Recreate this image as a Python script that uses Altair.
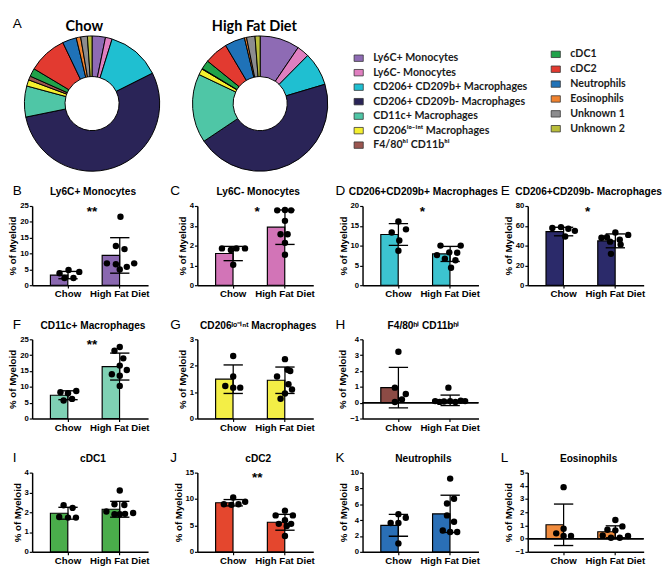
import altair as alt
import pandas as pd

groups = ["Chow", "High Fat Diet"]

# ---- donut data (A) ----
cells = ["Ly6C+ Monocytes", "Ly6C- Monocytes", "CD206+ CD209b+ Macrophages",
         "CD206+ CD209b- Macrophages", "CD11c+ Macrophages", "CD206ˡᵒ⁻ⁱⁿᵗ Macrophages",
         "F4/80ʰⁱ CD11bʰⁱ", "cDC1", "cDC2", "Neutrophils", "Eosinophils",
         "Unknown 1", "Unknown 2"]
cell_colors = ["#8e6bb4", "#e07fc0", "#1fbfd1", "#2a2457", "#4fc6a6", "#f4ef2f",
               "#9b5650", "#21a24a", "#e23a30", "#1f72b8", "#f0822e", "#8c8c8e", "#b9bd3a"]
share_chow = [3.2, 1.6, 12.8, 54.2, 7.4, 1.5, 0.95, 1.95, 9.3, 3.35, 1.05, 1.6, 1.1]
share_hfd = [9.4, 2.9, 7.9, 44.8, 16.3, 1.45, 0.15, 2.12, 5.6, 4.75, 0.5, 2.0, 1.2]
legend_col1 = cells[:7]
legend_col2 = cells[7:]

# ---- bar panels (B-L) ----
panel_titles = ["Ly6C+ Monocytes", "Ly6C- Monocytes", "CD206+CD209b+ Macrophages",
                "CD206+CD209b- Macrophages", "CD11c+ Macrophages", "CD206ˡᵒ⁻ⁱⁿᵗ Macrophages",
                "F4/80ʰⁱ CD11bʰⁱ", "cDC1", "cDC2", "Neutrophils", "Eosinophils"]
panel_letters = ["B", "C", "D", "E", "F", "G", "H", "I", "J", "K", "L"]
panel_colors = ["#8a68b0", "#d274b7", "#3cc3d0", "#2b2a6a", "#7fd1b4", "#f3ee46",
                "#8c4b45", "#4aad4b", "#e4472e", "#2a6fb6", "#f08b3d"]
y_domains = [[0, 25], [0, 4], [0, 20], [0, 80], [0, 25], [0, 3], [-1, 4],
             [0, 4], [0, 15], [0, 10], [-1, 5]]
y_steps = [5, 1, 5, 20, 5, 1, 1, 1, 5, 2, 1]
stars = ["**", "*", "*", "*", "**", "", "", "", "**", "", ""]

mean_chow = [3.2, 1.6, 12.8, 54.2, 7.35, 1.49, 0.95, 1.95, 9.3, 3.35, 1.05]
sd_chow = [1.15, 0.36, 2.75, 4.3, 1.4, 0.54, 1.28, 0.3, 0.6, 1.38, 1.57]
mean_hfd = [9.4, 2.93, 7.9, 44.8, 16.4, 1.45, 0.15, 2.15, 5.6, 4.8, 0.52]
sd_hfd = [5.6, 0.87, 1.9, 7.0, 4.25, 0.5, 0.33, 0.4, 1.5, 2.35, 0.45]

pts_chow = [
    [3.8, 4.8, 4.2, 2.3, 2.3],
    [1.86, 1.78, 1.86, 1.86, 1.03],
    [16.1, 13.3, 14.1, 11.3, 8.7],
    [57.8, 58.7, 57.1, 54.9, 49.2],
    [8.3, 8.0, 8.7, 5.7, 6.2],
    [2.37, 1.59, 1.23, 1.17, 1.17],
    [3.22, 0.95, 0.55, 0.2, 0.04],
    [2.35, 2.22, 1.76, 1.73, 1.73],
    [10.3, 9.0, 8.9, 9.0, 9.5],
    [4.76, 4.3, 3.65, 3.65, 1.07],
    [3.9, 0.75, 0.4, 0.2, 0.2],
]
jit_chow = [
    [-0.48, 0.03, 0.64, -0.2, 0.31],
    [-0.64, -0.13, 0.18, 0.67, 0.0],
    [0.0, -0.38, 0.43, 0.05, 0.0],
    [-0.64, -0.15, 0.27, 0.64, 0.09],
    [-0.43, 0.0, 0.47, -0.25, 0.23],
    [0.0, 0.0, -0.45, 0.4, 0.0],
    [0.0, -0.2, 0.42, 0.2, -0.2],
    [-0.25, 0.26, -0.5, 0.0, 0.45],
    [0.0, -0.53, -0.1, 0.3, 0.68],
    [0.0, 0.42, -0.44, 0.0, 0.0],
    [0.0, 0.0, -0.42, 0.0, 0.42],
]
pts_hfd = [
    [21.6, 12.4, 11.4, 6.9, 6.6, 5.0, 5.8, 6.9],
    [3.78, 3.8, 3.78, 3.25, 2.57, 2.57, 2.14, 1.54],
    [10.0, 10.0, 7.6, 8.3, 8.2, 6.7, 6.3, 4.4],
    [48.5, 53.3, 50.8, 48.0, 46.0, 44.0, 41.0, 31.7],
    [22.6, 21.4, 19.0, 16.7, 15.3, 14.0, 13.5, 10.3],
    [2.25, 1.85, 1.8, 1.59, 1.3, 1.1, 0.95, 0.75],
    [0.95, 0.1, 0.05, 0.08, 0.1, 0.05, 0.12, 0.1],
    [3.1, 2.4, 2.37, 2.04, 1.96, 1.9, 1.9, 1.92],
    [7.8, 6.9, 6.9, 6.0, 5.3, 5.3, 4.9, 3.0],
    [9.25, 6.7, 6.1, 4.6, 3.8, 2.7, 2.5, 2.5],
    [1.41, 0.93, 0.68, 0.63, 0.24, 0.07, 0.07, 0.2],
]
jit_hfd = [
    [0.04, -0.22, 0.27, -0.73, -0.22, 0.0, 0.4, 0.82],
    [-0.44, 0.0, 0.35, 0.0, -0.25, 0.15, 0.0, 0.0],
    [-0.55, 0.6, -0.75, -0.05, 0.4, -0.3, 0.3, 0.05],
    [-0.48, 0.0, 0.73, -0.79, 0.25, -0.3, 0.3, -0.25],
    [0.0, -0.3, 0.2, 0.0, 0.4, -0.45, 0.0, 0.0],
    [0.0, 0.15, 0.3, -0.45, 0.2, 0.4, 0.0, -0.25],
    [-0.1, -0.85, -0.6, -0.35, 0.0, 0.3, 0.6, 0.85],
    [0.0, -0.3, 0.26, -0.76, 0.76, -0.3, 0.0, 0.3],
    [0.0, -0.53, 0.45, 0.0, -0.35, 0.35, 0.1, 0.0],
    [0.0, 0.22, -0.18, -0.18, 0.22, -0.42, 0.0, 0.4],
    [0.0, 0.4, -0.45, 0.0, -0.72, -0.25, 0.25, 0.72],
]

# ---- layout constants ----
W, H = 120, 82
TOP_H = 120
PI, PO, ALIGN = 0.32, 0.28, 0.63
STEP = W / (2 - PI + 2 * PO)
BW = STEP * (1 - PI)
AX_FONT = "Liberation Sans"

xscale = alt.Scale(domain=groups, paddingInner=PI, paddingOuter=PO, align=ALIGN)
xaxis = alt.Axis(title=None, labelAngle=0, labelFontSize=10, labelFontWeight="bold",
                 labelPadding=1, tickSize=3, tickWidth=1.2, domainWidth=1.5,
                 labelFont=AX_FONT)


def text_layer(txt, x, y, size, weight="normal", align="left", font=AX_FONT):
    return alt.Chart(pd.DataFrame({"t": [txt]})).mark_text(
        align=align, baseline="middle", fontSize=size, fontWeight=weight,
        font=font, color="black"
    ).encode(text="t:N", x=alt.value(x), y=alt.value(y))


def panel(i, col):
    lo, hi = y_domains[i]
    ticks = []
    v = lo
    while v <= hi + 1e-9:
        ticks.append(v)
        v += y_steps[i]
    yscale = alt.Scale(domain=[lo, hi], nice=False, zero=False)
    yaxis = alt.Axis(values=ticks, format="d", title="% of Myeloid", titleFontSize=10,
                     titleFontWeight="bold", titlePadding=2, labelFontSize=8,
                     labelFontWeight="bold", labelPadding=1, tickSize=3, tickWidth=1.2,
                     domainWidth=1.5, labelFont=AX_FONT, titleFont=AX_FONT)
    bar_df = pd.DataFrame({
        "group": groups,
        "mean": [mean_chow[i], mean_hfd[i]],
        "sd": [sd_chow[i], sd_hfd[i]],
    })
    bar_df["lo"] = bar_df["mean"] - bar_df["sd"]
    bar_df["hi"] = bar_df["mean"] + bar_df["sd"]
    dots_df = pd.DataFrame({
        "group": ["Chow"] * len(pts_chow[i]) + ["High Fat Diet"] * len(pts_hfd[i]),
        "value": pts_chow[i] + pts_hfd[i],
        "jit": jit_chow[i] + jit_hfd[i],
    })
    xenc = alt.X("group:N", scale=xscale, axis=xaxis)

    def yq(field):
        return alt.Y(field, scale=yscale, axis=yaxis)

    base = alt.Chart(bar_df)
    layers = [
        base.mark_bar(color=panel_colors[i], stroke="black", strokeWidth=1.2).encode(
            x=xenc, y=yq("mean:Q"), y2=alt.datum(0)),
    ]
    if lo < 0:
        layers.append(alt.Chart(bar_df).mark_rule(color="black", strokeWidth=1.5).encode(
            y=alt.Y(datum=0, scale=yscale, axis=yaxis)))
    layers += [
        base.mark_rule(color="black", strokeWidth=1.3).encode(x=xenc, y=yq("lo:Q"), y2="hi:Q"),
        base.mark_tick(color="black", size=20, thickness=1.4, opacity=1).encode(x=xenc, y=yq("lo:Q")),
        base.mark_tick(color="black", size=20, thickness=1.4, opacity=1).encode(x=xenc, y=yq("hi:Q")),
        alt.Chart(dots_df).mark_circle(color="black", size=44, opacity=1).encode(
            x=xenc,
            xOffset=alt.XOffset("jit:Q", scale=alt.Scale(domain=[-1, 1], range=[0, BW])),
            y=yq("value:Q")),
        text_layer(panel_letters[i], -20 if col == 0 else -28, -15, 14),
        text_layer(panel_titles[i], 63, -14, 10.5, "bold", "center"),
    ]
    if stars[i]:
        layers.append(text_layer(stars[i], 62, 6, 14, "bold", "center"))
    return alt.layer(*layers).properties(width=W, height=H)


def donut(shares, label, cx, tx, letter=None):
    df = pd.DataFrame({"cell": cells, "share": shares, "idx": list(range(len(cells)))})
    arc = alt.Chart(df).mark_arc(innerRadius=28, outerRadius=70, stroke="black",
                                 strokeWidth=1).encode(
        theta=alt.Theta("share:Q", stack=True),
        color=alt.Color("cell:N", scale=alt.Scale(domain=cells, range=cell_colors), legend=None),
        order=alt.Order("idx:Q"),
        x=alt.value(cx), y=alt.value(70))
    layers = [arc, text_layer(label, tx, -10, 15, "bold", "center", "Lato")]
    if letter:
        layers.append(text_layer(letter, -20, -12, 14))
    return alt.layer(*layers).properties(width=W, height=TOP_H)


def legend(names, xs, xt, yr):
    df = pd.DataFrame({"cell": names})
    y = alt.Y("cell:N", sort=names,
              scale=alt.Scale(type="point", domain=names, range=yr, padding=0), axis=None)
    sq = alt.Chart(df).mark_point(shape="M-1,-0.7H1V0.7H-1Z", filled=True, size=90,
                                  stroke="#333333", strokeWidth=0.8, opacity=1).encode(
        x=alt.value(xs), y=y,
        color=alt.Color("cell:N", scale=alt.Scale(domain=cells, range=cell_colors), legend=None))
    tx = alt.Chart(df).mark_text(align="left", baseline="middle", font="Lato",
                                 fontWeight="bold", fontSize=11, color="#1a1a1a").encode(
        x=alt.value(xt), y=y, text="cell:N")
    return alt.layer(sq, tx).properties(width=W, height=TOP_H)


placeholder = alt.Chart(pd.DataFrame({"a": [0]})).mark_text(text="").encode(
    x=alt.value(0)).properties(width=W, height=H)

views = [
    donut(share_chow, "Chow", 62, 54, "A"),
    donut(share_hfd, "High Fat Diet", 65, 59),
    legend(legend_col1, -4, 11, [23, 113]),
    legend(legend_col2, 29, 44, [19, 96]),
    panel(0, 0), panel(1, 1), panel(2, 2), panel(3, 3),
    panel(4, 0), panel(5, 1), panel(6, 2), placeholder,
    panel(7, 0), panel(8, 1), panel(9, 2), panel(10, 3),
]

chart = alt.concat(
    *views, columns=4, spacing={"row": 56, "column": 51}, bounds="flush"
).properties(
    padding={"left": 0, "top": 0, "right": 0, "bottom": 0}
).configure(font=AX_FONT).configure_view(strokeWidth=0).configure_axis(
    grid=False, domainColor="black", tickColor="black", labelColor="black", titleColor="black"
)

chart.save("out.html", embed_options={"renderer": "svg", "actions": False})
